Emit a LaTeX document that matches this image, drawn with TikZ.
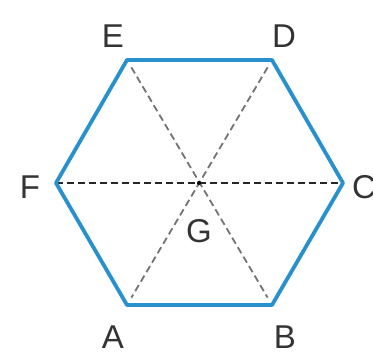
\documentclass[tikz,border=0pt]{standalone}
\usepackage{fontspec}
\setmainfont{Liberation Sans}
\usetikzlibrary{calc}
\begin{document}
\begin{tikzpicture}[x=1pt,y=-1pt,
  hexline/.style={draw=hexblue,line width=3.8pt,line join=round},
  diag/.style={draw=gray!90!black,line width=1.8pt,dash pattern=on 7pt off 4pt},
  mid/.style={draw=black!85,line width=1.4pt,dash pattern=on 7pt off 4pt},
  lab/.style={font=\fontsize{33}{33}\selectfont,text=black!80,inner sep=0pt}]
\definecolor{hexblue}{RGB}{40,145,205}
\useasboundingbox (0,0) rectangle (373,356);
\coordinate (A) at (127,305);
\coordinate (B) at (272,305);
\coordinate (C) at (343,183);
\coordinate (D) at (272,60);
\coordinate (E) at (127,60);
\coordinate (F) at (56,183);
\coordinate (G) at (199,183);
\draw[diag] ($(E)!0.03!(B)$) -- ($(E)!0.97!(B)$);
\draw[diag] ($(D)!0.03!(A)$) -- ($(D)!0.97!(A)$);
\draw[mid] (F) -- (C);
\fill[black] (G) circle (2pt);
\draw[hexline] (A) -- (B) -- (C) -- (D) -- (E) -- (F) -- cycle;
\node[lab] (lA) at (113,337) {A};
\node[lab] (lB) at (285,337) {B};
\node[lab] (lC) at (364,187) {C};
\node[lab] (lD) at (284,36) {D};
\node[lab] (lE) at (113,36) {E};
\node[lab] (lF) at (30,187) {F};
\node[lab] (lG) at (199,231) {G};
\end{tikzpicture}
\end{document}
